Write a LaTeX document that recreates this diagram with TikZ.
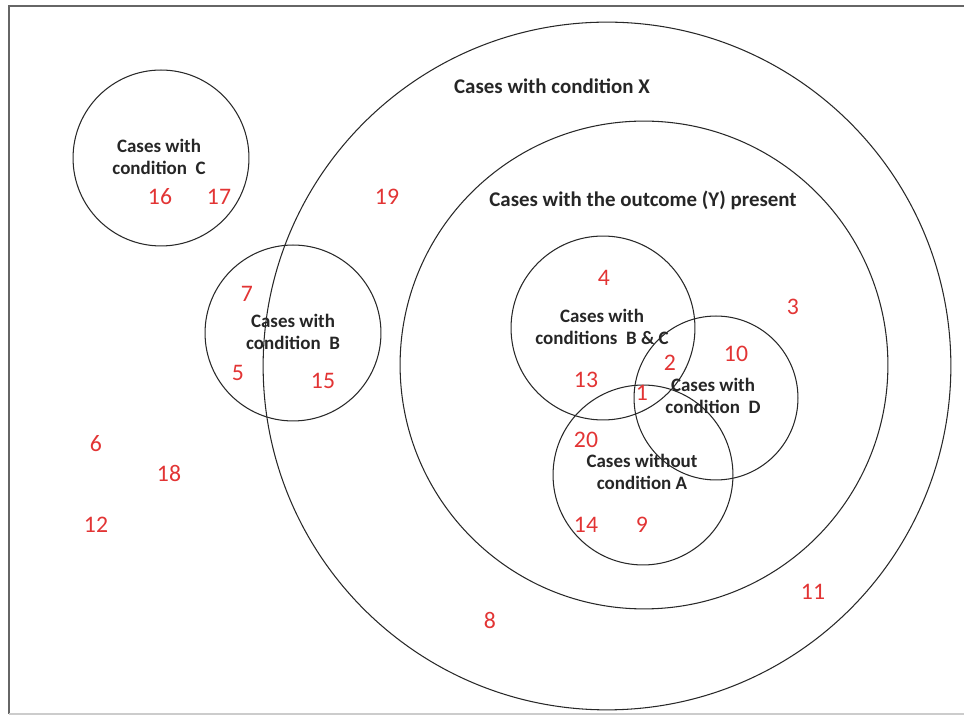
\documentclass[tikz,border=0pt]{standalone}
\usepackage{fontspec}
\setmainfont{Carlito}
\definecolor{numred}{RGB}{226,52,52}
\definecolor{linegray}{RGB}{40,40,40}
\begin{document}
\begin{tikzpicture}[x=0.02cm,y=-0.02cm,
  ring/.style={circle,draw=linegray,line width=0.6pt,inner sep=0pt},
  lab/.style={font=\bfseries\fontsize{10.8}{12.5}\selectfont,text=black!85,align=center,inner sep=0pt},
  title/.style={font=\bfseries\fontsize{11.9}{14}\selectfont,text=black!85,inner sep=0pt},
  num/.style={font=\fontsize{13.5}{15}\selectfont,text=numred,inner sep=0pt}]
\useasboundingbox (0,0) rectangle (964,715);
% frame
\draw[draw=black!60,line width=1.2pt] (9,714) -- (9,6) -- (964,6);
\draw[draw=black!20,line width=0.8pt] (9,714) -- (964,714);
% circles
\node[ring,minimum size=344*0.04cm] (X) at (607,366) {};
\node[ring,minimum size=244*0.04cm] (Y) at (644,365) {};
\node[ring,minimum size=88*0.04cm] (C) at (161,158) {};
\node[ring,minimum size=88*0.04cm] (B) at (293,333) {};
\node[ring,minimum size=92*0.04cm] (BC) at (603,328) {};
\node[ring,minimum size=82*0.04cm] (D) at (716,398) {};
\node[ring,minimum size=90*0.04cm] (A) at (643,475) {};
% titles
\node[title] (tX) at (552,86) {Cases with condition X};
\node[title] (tY) at (643,200) {Cases with the outcome (Y) present};
\node[lab] (tC) at (159,157) {Cases with\\condition\ \ C};
\node[lab] (tB) at (293,332) {Cases with\\condition\ \ B};
\node[lab] (tBC) at (602,327) {Cases with\\conditions\ \ B \& C};
\node[lab] (tD) at (713,396) {Cases with\\condition\ \ D};
\node[lab] (tA) at (642,472) {Cases without\\condition A};
% numbers
\node[num] (n16) at (160,197) {16};
\node[num] (n17) at (219,197) {17};
\node[num] (n19) at (387,197) {19};
\node[num] (n7) at (247,294) {7};
\node[num] (n5) at (238,373) {5};
\node[num] (n15) at (323,381) {15};
\node[num] (n4) at (604,278) {4};
\node[num] (n3) at (793,307) {3};
\node[num] (n10) at (736,354) {10};
\node[num] (n2) at (670,363) {2};
\node[num] (n13) at (586,380) {13};
\node[num] (n1) at (642,393) {1};
\node[num] (n20) at (586,440) {20};
\node[num] (n14) at (586,525) {14};
\node[num] (n9) at (642,525) {9};
\node[num] (n6) at (96,444) {6};
\node[num] (n18) at (169,473) {18};
\node[num] (n12) at (96,525) {12};
\node[num] (n11) at (813,592) {11};
\node[num] (n8) at (490,620) {8};
\end{tikzpicture}
\end{document}
